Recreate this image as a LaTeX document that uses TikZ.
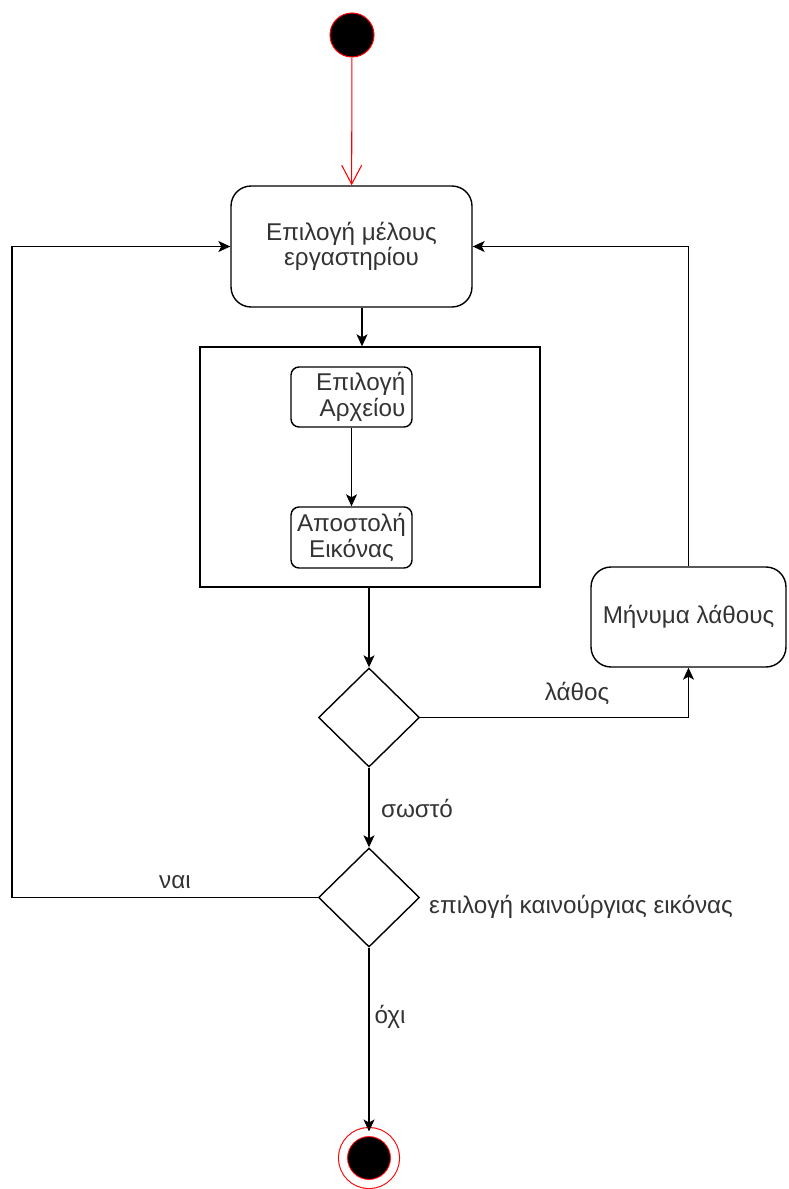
\documentclass[tikz,border=0pt]{standalone}
\usepackage{fontspec}
\setmainfont{Liberation Sans}
\usetikzlibrary{arrows.meta,shapes.geometric}
\definecolor{inkgray}{HTML}{333333}
\tikzset{
	every node/.style={font=\fontsize{13.8pt}{14.4pt}\selectfont, text=inkgray},
	act/.style={draw, rounded corners=0.4cm, line width=0.8pt, align=center, inner sep=0},
	subact/.style={draw, rounded corners=0.16cm, line width=0.8pt, align=center, inner sep=0, minimum width=2.42cm, minimum height=1.2cm},
	choice/.style={draw, diamond, line width=0.8pt, inner sep=0, minimum width=2.02cm, minimum height=1.98cm},
	flow/.style={line width=0.8pt, -{Stealth[length=0.24cm, width=0.22cm, inset=0.06cm]}},
}

\begin{document}
\begin{tikzpicture}[x=0.02cm, y=-0.02cm]
				\useasboundingbox (0, 0) rectangle (788, 1189);
				
				\node[circle, draw=red, fill=black, line width=0.6pt, minimum size=0.88cm, inner sep=0] (init) at (352, 35) {};
				\node[act, minimum width=4.82cm, minimum height=2.42cm] (member) at (351.5, 246.5) {Επιλογή μέλους\\εργαστηρίου};
				\draw[red, line width=0.6pt, -{Straight Barb[length=0.38cm, width=0.4cm]}] (init) -- (member);
				
				\node[draw, line width=0.8pt, minimum width=6.8cm, minimum height=4.8cm, inner sep=0] (upload) at (370, 467) {};
				\node[subact] (file) at (351.5, 397) {};
				\node[align=right, anchor=east, inner sep=0] (filetext) at ([xshift=-0.14cm]file.east) {Επιλογή\\Αρχείου};
				\node[subact, minimum height=1.22cm] (send) at (351.5, 537.5) {Αποστολή\\Εικόνας};
				\draw[flow] (file) -- (send);
				\draw[flow] ([xshift=0.21cm]member.south) -- ([xshift=0.21cm]member.south |- upload.north);
				
				\node[choice] (check) at (369, 717.5) {};
				\draw[flow] (upload.south -| check.north) -- (check.north);
				
				\node[act, minimum width=3.9cm, minimum height=2cm] (error) at (688.5, 617) {Μήνυμα λάθους};
				\draw[flow] (check.east) -| (error.south);
				\node (wrong) at (577, 693) {λάθος};
				\draw[flow] (error.north) |- (member.east);
				
				\node[choice] (again) at (369, 897.5) {};
				\draw[flow] (check.south) -- (again.north);
				\node (right) at (417, 808) {σωστό};
				\node[anchor=west] (newpic) at (423, 907) {επιλογή καινούργιας εικόνας};
				
				\coordinate (loop) at (12, 897.5);
				\draw[flow] (again.west) -- (loop) |- (member.west);
				\node (yes) at (175, 882) {ναι};
				
				\node[circle, draw=red, fill=black, double=white, double distance=0.16cm, line width=0.6pt, minimum size=1.04cm, inner sep=0] (finish) at (369, 1158) {};
				\draw[flow] (again.south) -- (finish.north);
				\node (no) at (390, 1017) {όχι};
			\end{tikzpicture}
\end{document}
